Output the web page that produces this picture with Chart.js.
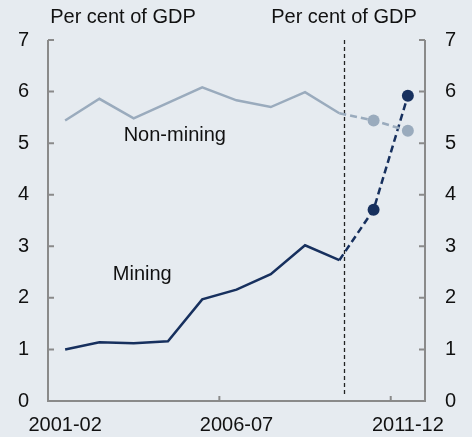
<!DOCTYPE html>
<html><head><meta charset="utf-8">
<script src="https://cdn.jsdelivr.net/npm/chart.js@4/dist/chart.umd.min.js"></script>
<style>html,body{margin:0;padding:0;background:#e6ebf0;overflow:hidden}#wrap{width:472px;height:437px}</style>
</head><body><div id="wrap"><canvas id="c" width="472" height="437"></canvas></div>
<script>
const categories = ['2001-02','2002-03','2003-04','2004-05','2005-06','2006-07','2007-08','2008-09','2009-10','2010-11','2011-12'];
const miningValues = [1.00,1.14,1.12,1.16,1.97,2.16,2.46,3.02,2.73,3.71,5.92];
const nonMiningValues = [5.44,5.86,5.48,5.78,6.08,5.83,5.70,5.99,5.58,5.44,5.24];
const shownXLabels = ['2001-02','2006-07','2011-12'];
const yMin = 0, yMax = 7, yStep = 1;
const forecastStart = 8; // last actual index (2009-10)
const unitLabel = 'Per cent of GDP';

const BG = '#e6ebf0', AXIS = '#8a8a8a', MINING = '#17305e', NONMIN = '#9aabbd';
const FONT = '20px "Liberation Sans", Arial, sans-serif';

const framePlugin = {
  id: 'frame',
  beforeDraw(chart) {
    const c = chart.ctx;
    c.save(); c.fillStyle = BG; c.fillRect(0, 0, chart.width, chart.height); c.restore();
  },
  beforeDatasetsDraw(chart) {
    const c = chart.ctx, a = chart.chartArea, x = chart.scales.x, y = chart.scales.y;
    c.save();
    // vertical dashed divider between actual and forecast
    const vx = Math.round(x.getPixelForValue(forecastStart + 0.15)) + 0.5;
    c.strokeStyle = '#222'; c.lineWidth = 1.3; c.setLineDash([4, 3]);
    c.beginPath(); c.moveTo(vx, y.getPixelForValue(7)); c.lineTo(vx, y.getPixelForValue(0.12)); c.stroke();
    c.setLineDash([]);
    // axes frame
    c.strokeStyle = AXIS; c.lineWidth = 2;
    c.beginPath();
    c.moveTo(a.left, a.top); c.lineTo(a.left, a.bottom); c.lineTo(a.right, a.bottom); c.lineTo(a.right, a.top);
    c.stroke();
    // y ticks inward on both sides
    for (let v = yMin; v <= yMax; v += yStep) {
      const py = y.getPixelForValue(v);
      c.beginPath(); c.moveTo(a.left, py); c.lineTo(a.left + 6, py);
      c.moveTo(a.right, py); c.lineTo(a.right - 6, py); c.stroke();
    }
    // x ticks at category boundaries of labelled categories
    categories.forEach((cat, i) => {
      if (shownXLabels.includes(cat) && i > 0) {
        const px = x.getPixelForValue(i - 0.5);
        c.beginPath(); c.moveTo(px, a.bottom); c.lineTo(px, a.bottom - 5); c.stroke();
      }
    });
    c.restore();
  },
  afterDraw(chart) {
    const c = chart.ctx, x = chart.scales.x, y = chart.scales.y;
    c.save(); c.font = FONT; c.fillStyle = '#111'; c.textAlign = 'center'; c.textBaseline = 'middle';
    c.fillText(unitLabel, 123, 17);
    c.fillText(unitLabel, 344, 17);
    c.fillText('Non-mining', x.getPixelForValue(3.2), y.getPixelForValue(5.15));
    c.fillText('Mining', x.getPixelForValue(2.25), y.getPixelForValue(2.46));
    c.restore();
  }
};

const pointR = (ctx) => ctx.dataIndex > forecastStart ? 6 : 0;
const dashSeg = { borderDash: (ctx) => ctx.p0DataIndex >= forecastStart ? [7, 4] : undefined };

new Chart(document.getElementById('c'), {
  type: 'line',
  data: {
    labels: categories,
    datasets: [
      { label: 'Non-mining', data: nonMiningValues, borderColor: NONMIN, backgroundColor: NONMIN,
        borderWidth: 2.5, pointRadius: pointR, pointBorderWidth: 0, tension: 0, segment: dashSeg },
      { label: 'Mining', data: miningValues, borderColor: MINING, backgroundColor: MINING,
        borderWidth: 2.5, pointRadius: pointR, pointBorderWidth: 0, tension: 0, segment: dashSeg }
    ]
  },
  options: {
    responsive: false, animation: false, devicePixelRatio: 1,
    layout: { padding: { top: 40, left: 0, right: 0, bottom: 0 } },
    plugins: { legend: { display: false }, tooltip: { enabled: false } },
    scales: {
      x: {
        type: 'category', offset: true,
        grid: { display: false, drawTicks: false }, border: { display: false },
        ticks: { autoSkip: false, maxRotation: 0, padding: 12, color: '#111',
          font: { family: '"Liberation Sans", Arial, sans-serif', size: 20 },
          callback: function (v, i) { const l = categories[i]; return shownXLabels.includes(l) ? l : ''; } },
        afterFit: (s) => { s.height = 36; }
      },
      y: {
        position: 'left', min: yMin, max: yMax,
        grid: { display: false, drawTicks: false }, border: { display: false },
        ticks: { stepSize: yStep, padding: 19, color: '#111', font: { family: '"Liberation Sans", Arial, sans-serif', size: 20 } },
        afterFit: (s) => { s.width = 48; }
      },
      y2: {
        position: 'right', min: yMin, max: yMax,
        grid: { display: false, drawTicks: false }, border: { display: false },
        ticks: { stepSize: yStep, padding: 20, color: '#111', font: { family: '"Liberation Sans", Arial, sans-serif', size: 20 } },
        afterFit: (s) => { s.width = 47; }
      }
    }
  },
  plugins: [framePlugin]
});
</script></body></html>
